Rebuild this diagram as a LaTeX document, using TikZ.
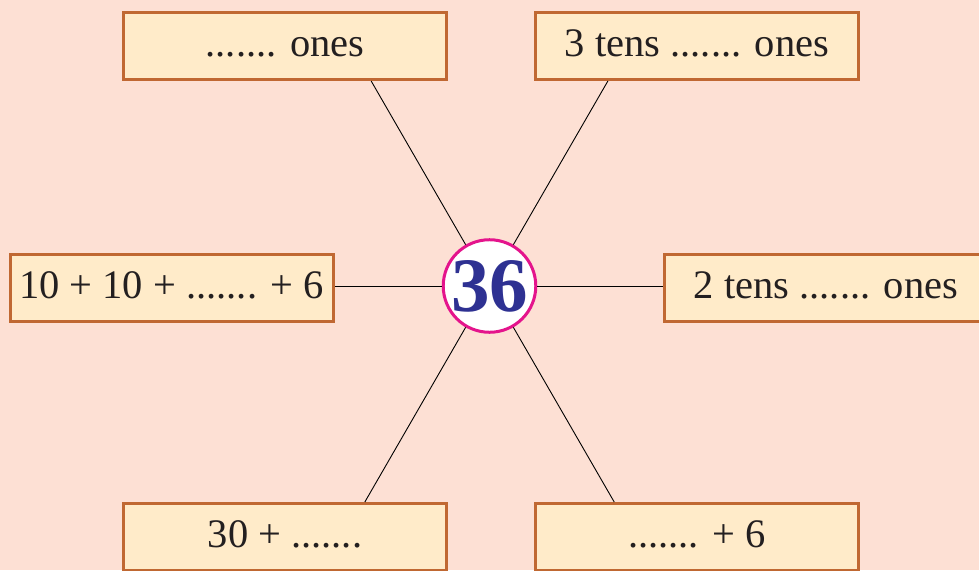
\documentclass[tikz,border=0pt]{standalone}
\usepackage{fontspec}
\setmainfont{Liberation Serif}
\usetikzlibrary{calc}
\definecolor{bgpeach}{RGB}{253,224,212}
\definecolor{boxfill}{RGB}{255,235,201}
\definecolor{boxline}{RGB}{192,104,50}
\definecolor{ringcol}{RGB}{228,20,140}
\definecolor{numblue}{RGB}{46,49,146}
\definecolor{txt}{RGB}{35,31,32}
\begin{document}
\begin{tikzpicture}[x=1pt,y=-1pt,
  answerbox/.style={draw=boxline, fill=boxfill, line width=3pt, minimum width=323pt,
    minimum height=67pt, inner sep=0pt, text=txt, text height=28pt, text depth=8pt,
    font=\fontsize{40.5}{48}\selectfont},
  ring/.style={circle, draw=ringcol, fill=white, line width=3pt, minimum size=92pt, inner sep=0pt,
    text=numblue, font=\fontsize{77}{80}\selectfont\bfseries},
  link/.style={draw=black, line width=0.9pt}]
\fill[bgpeach] (0,0) rectangle (979,570);
\useasboundingbox (0,0) rectangle (979,570);
\node[answerbox] (tl) at (285,46) {....... ones};
\node[answerbox] (tr) at (697,46) {3 tens ....... ones};
\node[answerbox] (lb) at (171.5,288) {10 + 10 + ....... + 6};
\node[answerbox] (rb) at (826,288) {2 tens ....... ones};
\node[answerbox] (bl) at (285,537) {30 + .......};
\node[answerbox] (br) at (697,537) {....... + 6};
\node[ring] (c) at (489.5,286) {36};
\path (c.center) ++(120:300) coordinate (d1);
\path (c.center) ++(60:300) coordinate (d2);
\path (c.center) ++(-120:300) coordinate (d3);
\path (c.center) ++(-60:300) coordinate (d4);
\draw[link] (c) -- (intersection of c.center--d1 and tl.south west--tl.south east);
\draw[link] (c) -- (intersection of c.center--d2 and tr.south west--tr.south east);
\draw[link] (c) -- (intersection of c.center--d3 and bl.north west--bl.north east);
\draw[link] (c) -- (intersection of c.center--d4 and br.north west--br.north east);
\draw[link] (c) -- (c -| lb.east);
\draw[link] (c) -- (c -| rb.west);
\end{tikzpicture}
\end{document}
